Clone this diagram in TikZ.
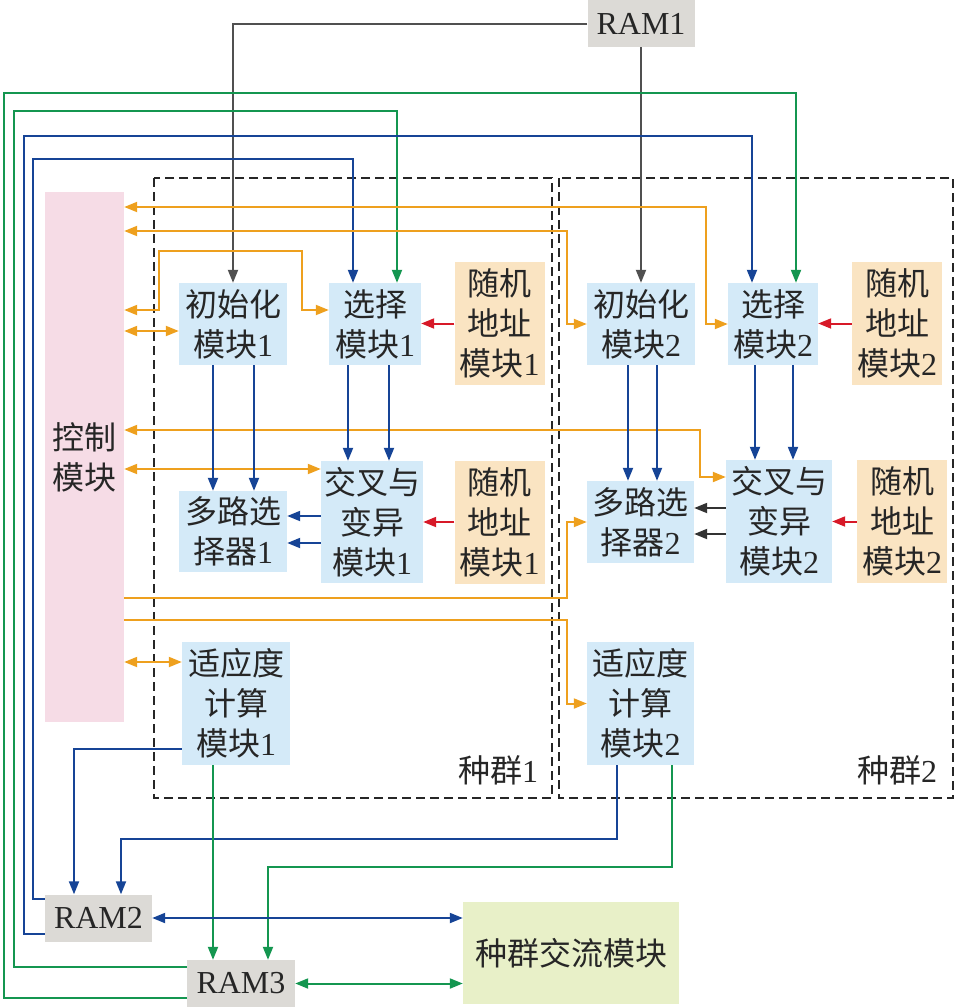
\documentclass[tikz,border=0pt]{standalone}
\usepackage{fontspec}
\setmainfont{Liberation Serif}
\newfontfamily\cjk{Noto Sans CJK SC}
\usetikzlibrary{arrows.meta}

\definecolor{boxblue}{RGB}{212,234,248}
\definecolor{boxtan}{RGB}{250,228,194}
\definecolor{boxpink}{RGB}{246,220,230}
\definecolor{boxgray}{RGB}{220,218,214}
\definecolor{boxgreen}{RGB}{232,240,200}
\definecolor{lnorange}{RGB}{238,160,30}
\definecolor{lnblue}{RGB}{22,68,150}
\definecolor{lngreen}{RGB}{20,150,80}
\definecolor{lnred}{RGB}{215,25,40}
\definecolor{lngray}{RGB}{80,80,80}

\tikzset{
    blk/.style={inner sep=0pt,align=center,text=black!85,font=\fontsize{32}{40}\selectfont},
    modbox/.style={blk,fill=boxblue},
    rndbox/.style={blk,fill=boxtan,minimum width=90pt,minimum height=123pt},
    rambox/.style={blk,fill=boxgray,minimum width=107pt,minimum height=47pt},
    popbox/.style={draw=black!85,line width=1.5pt,dash pattern=on 9pt off 5pt},
    orgline/.style={draw=lnorange,line width=2pt},
    bluline/.style={draw=lnblue,line width=2pt},
    grnline/.style={draw=lngreen,line width=2pt},
    redline/.style={draw=lnred,line width=2pt},
    gryline/.style={draw=lngray,line width=2pt},
    drkline/.style={draw=black!80,line width=2pt}
}

\begin{document}
\begin{tikzpicture}[x=1pt,y=-1pt,>={Triangle[length=13pt,width=10pt]}]
    \useasboundingbox (0,0) rectangle (957,1007);

    % two populations
    \draw[popbox] (154,178) rectangle (552,798);
    \draw[popbox] (559,178) rectangle (953,798);
    \node[blk] (pop1) at (498,770) {{\cjk 种群}1};
    \node[blk] (pop2) at (897,770) {{\cjk 种群}2};

    % blocks
    \node[rambox] (ram1) at (641,23.5) {RAM1};
    \node[blk,fill=boxpink,minimum width=79pt,minimum height=530pt] (ctrl) at (84.5,457) {{\cjk 控制}\\{\cjk 模块}};
    \node[modbox,minimum width=108pt,minimum height=82pt] (init1) at (233,324) {{\cjk 初始化}\\{\cjk 模块}1};
    \node[modbox,minimum width=92pt,minimum height=82pt] (sel1) at (375,324) {{\cjk 选择}\\{\cjk 模块}1};
    \node[rndbox] (rnd1a) at (499.5,323.5) {{\cjk 随机}\\{\cjk 地址}\\{\cjk 模块}1};
    \node[modbox,minimum width=108pt,minimum height=81pt] (mux1) at (233,531.5) {{\cjk 多路选}\\{\cjk 择器}1};
    \node[modbox,minimum width=102pt,minimum height=122pt] (cross1) at (372,522) {{\cjk 交叉与}\\{\cjk 变异}\\{\cjk 模块}1};
    \node[rndbox] (rnd1b) at (499.5,522) {{\cjk 随机}\\{\cjk 地址}\\{\cjk 模块}1};
    \node[modbox,minimum width=108pt,minimum height=123pt] (fit1) at (236,703.5) {{\cjk 适应度}\\{\cjk 计算}\\{\cjk 模块}1};

    \node[modbox,minimum width=108pt,minimum height=82pt] (init2) at (641,324) {{\cjk 初始化}\\{\cjk 模块}2};
    \node[modbox,minimum width=90pt,minimum height=82pt] (sel2) at (773,324) {{\cjk 选择}\\{\cjk 模块}2};
    \node[rndbox] (rnd2a) at (897,323.5) {{\cjk 随机}\\{\cjk 地址}\\{\cjk 模块}2};
    \node[modbox,minimum width=107pt,minimum height=82pt] (mux2) at (640.5,522) {{\cjk 多路选}\\{\cjk 择器}2};
    \node[modbox,minimum width=106pt,minimum height=123pt] (cross2) at (779,521.5) {{\cjk 交叉与}\\{\cjk 变异}\\{\cjk 模块}2};
    \node[rndbox] (rnd2b) at (902,521.5) {{\cjk 随机}\\{\cjk 地址}\\{\cjk 模块}2};
    \node[modbox,minimum width=107pt,minimum height=123pt] (fit2) at (640.5,703.5) {{\cjk 适应度}\\{\cjk 计算}\\{\cjk 模块}2};

    \node[rambox] (ram2) at (98.5,918) {RAM2};
    \node[rambox,minimum width=108pt] (ram3) at (241,983.5) {RAM3};
    \node[blk,fill=boxgreen,minimum width=216pt,minimum height=102pt] (xchg) at (571,953) {\cjk 种群交流模块};

    % RAM1 to init
    \draw[gryline,->] (ram1.west) -| (init1.north);
    \draw[gryline,->] (ram1.south) -- (init2.north);

    % RAM2/RAM3 back to selection
    \draw[grnline,->] ([yshift=-14.5pt]ram3.west) -| (4,93) -| ([xshift=23pt]sel2.north);
    \draw[grnline,->] ([yshift=16.5pt]ram3.west) -| (14,111) -| ([xshift=22pt]sel1.north);
    \draw[bluline,->] ([yshift=-16pt]ram2.west) -| (24,136) -| ([xshift=-21pt]sel2.north);
    \draw[bluline,->] ([yshift=19pt]ram2.west) -| (33,159) -| ([xshift=-22pt]sel1.north);

    % control lines
    \draw[orgline,<->] ([yshift=250pt]ctrl.east) -| ([xshift=-22pt]sel2.west) -- (sel2.west);
    \draw[orgline,<->] ([yshift=226pt]ctrl.east) -| ([xshift=-20pt]init2.west) -- (init2.west);
    \draw[orgline,<->] ([yshift=147pt]ctrl.east) -| (159,251) -| (302,310) -- ([yshift=14pt]sel1.west);
    \draw[orgline,<->] ([yshift=126pt]ctrl.east) -- ([yshift=-7pt]init1.west);
    \draw[orgline,<->] ([yshift=27pt]ctrl.east) -| ([xshift=-26pt,yshift=44.5pt]cross2.west) -- ([yshift=44.5pt]cross2.west);
    \draw[orgline,<->] ([yshift=-12pt]ctrl.east) -- ([yshift=53pt]cross1.west);
    \draw[orgline,->] ([yshift=-141pt]ctrl.east) -| ([xshift=-20pt]mux2.west) -- (mux2.west);
    \draw[orgline,->] ([yshift=-163pt]ctrl.east) -| ([xshift=-20pt]fit2.west) -- (fit2.west);
    \draw[orgline,<->] ([yshift=-205pt]ctrl.east) -- ([yshift=41.5pt]fit1.west);

    % data paths inside the populations
    \foreach \dx in {-20,21}
        \draw[bluline,->] ([xshift=\dx pt]init1.south) -- ([xshift=\dx pt]init1.south |- mux1.north);
    \foreach \dx in {-27,14}
        \draw[bluline,->] ([xshift=\dx pt]sel1.south) -- ([xshift=\dx pt]sel1.south |- cross1.north);
    \foreach \dx in {-13,16}
        \draw[bluline,->] ([xshift=\dx pt]init2.south) -- ([xshift=\dx pt]init2.south |- mux2.north);
    \foreach \dx in {-18,20}
        \draw[bluline,->] ([xshift=\dx pt]sel2.south) -- ([xshift=\dx pt]sel2.south |- cross2.north);
    \foreach \dy in {6,-21}
        \draw[bluline,->] ([yshift=\dy pt]cross1.west) -- ([yshift=\dy pt]cross1.west -| mux1.east);
    \foreach \dy in {13.5,-12.5}
        \draw[drkline,->] ([yshift=\dy pt]cross2.west) -- ([yshift=\dy pt]cross2.west -| mux2.east);

    % random address
    \draw[redline,->] (rnd1a.west) -- (rnd1a.west -| sel1.east);
    \draw[redline,->] (rnd1b.west) -- (rnd1b.west -| cross1.east);
    \draw[redline,->] (rnd2a.west) -- (rnd2a.west -| sel2.east);
    \draw[redline,->] (rnd2b.west) -- (rnd2b.west -| cross2.east);

    % fitness to RAM2/RAM3
    \draw[bluline,->] ([yshift=-45.5pt]fit1.west) -| ([xshift=-24.5pt]ram2.north);
    \draw[bluline,->] ([xshift=-23.5pt]fit2.south) -- ++(0,-74pt) -| ([xshift=22.5pt]ram2.north);
    \draw[grnline,->] ([xshift=-23pt]fit1.south) -- ([xshift=-23pt]fit1.south |- ram3.north);
    \draw[grnline,->] ([xshift=31.5pt]fit2.south) -- ++(0,-102pt) -| ([xshift=27pt]ram3.north);

    % exchange
    \draw[bluline,<->] (ram2.east) -- (ram2.east -| xchg.west);
    \draw[grnline,<->] (ram3.east) -- (ram3.east -| xchg.west);
\end{tikzpicture}
\end{document}
